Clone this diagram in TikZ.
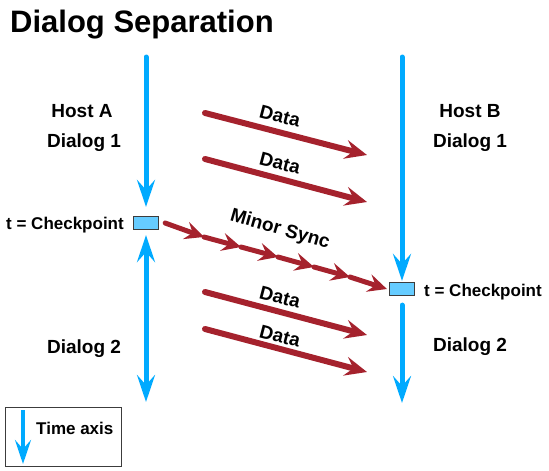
\documentclass[tikz,border=0pt]{standalone}
\usepackage{fontspec}
\setmainfont{Liberation Sans}
\usetikzlibrary{arrows.meta}
\definecolor{axisblue}{RGB}{0,170,255}
\definecolor{datared}{RGB}{165,34,45}
\definecolor{boxfill}{RGB}{102,204,255}
\definecolor{boxedge}{RGB}{60,60,60}
\begin{document}
\begin{tikzpicture}[x=1pt,y=-1pt,
  axisline/.style={draw=axisblue, line width=5pt, line cap=round, -{Stealth[length=27pt,width=18pt,inset=10pt]}},
  axisboth/.style={draw=axisblue, line width=5pt, {Stealth[length=27pt,width=18pt,inset=10pt]}-{Stealth[length=27pt,width=18pt,inset=10pt]}},
  dataline/.style={draw=datared, line width=6pt, line cap=round, -{Stealth[length=22pt,width=19pt,inset=8pt]}},
  syncline/.style={draw=datared, line width=5pt, line cap=round, -{Stealth[length=19pt,width=18pt,inset=7pt]}},
  cpbox/.style={draw=boxedge, line width=1.2pt, fill=boxfill, minimum width=25pt, minimum height=13pt, inner sep=0pt},
  lbl/.style={font=\fontsize{19}{19}\selectfont\bfseries, inner sep=0pt},
  small/.style={font=\fontsize{17}{17}\selectfont\bfseries, inner sep=0pt},
  rlbl/.style={font=\fontsize{19}{19}\selectfont\bfseries, inner sep=0pt, rotate=-14.7}
]
\useasboundingbox (0,0) rectangle (549,471);

% title
\node[anchor=base west, font=\fontsize{31}{31}\selectfont\bfseries, inner sep=0pt] (title) at (10,32) {Dialog Separation};

% checkpoint boxes
\node[cpbox] (cpA) at (146,223) {};
\node[cpbox] (cpB) at (402,289) {};

% axis coordinates
\coordinate (aTop) at (146,57);
\coordinate (aBot) at (146,402);
\coordinate (bTop) at (402,57);
\coordinate (bBot) at (402,403);

% blue time axes
\draw[axisline] (aTop) -- ([yshift=9pt]cpA.north);
\draw[axisboth] ([yshift=-5pt]cpA.south) -- (aBot);
\draw[axisline] (bTop) -- ([yshift=1pt]cpB.north);
\draw[axisline] ([yshift=-9pt]cpB.south) -- (bBot);

% data arrows
\coordinate (d1s) at (205,113); \coordinate (d1e) at (367,155);
\coordinate (d2s) at (205,159); \coordinate (d2e) at (367,202);
\coordinate (d3s) at (205,292); \coordinate (d3e) at (367,335);
\coordinate (d4s) at (205,329); \coordinate (d4e) at (367,372);
\draw[dataline] (d1s) -- (d1e);
\draw[dataline] (d2s) -- (d2e);
\draw[dataline] (d3s) -- (d3e);
\draw[dataline] (d4s) -- (d4e);
\node[rlbl] (dl1) at (280,116) {Data};
\node[rlbl] (dl2) at (280,163) {Data};
\node[rlbl] (dl3) at (280,297) {Data};
\node[rlbl] (dl4) at (280,336) {Data};

% minor sync chain
\coordinate (s0) at ([xshift=6pt]cpA.east);
\coordinate (s1) at (204,237);
\coordinate (s2) at (241,247);
\coordinate (s3) at (278,257);
\coordinate (s4) at (314,267);
\coordinate (s5) at (350,277);
\coordinate (s6) at ([xshift=-2pt]cpB.west);
\draw[syncline] (s0) -- (s1);
\draw[syncline] (s1) -- (s2);
\draw[syncline] (s2) -- (s3);
\draw[syncline] (s3) -- (s4);
\draw[syncline] (s4) -- (s5);
\draw[syncline] (s5) -- (s6);
\node[font=\fontsize{19}{19}\selectfont\bfseries, inner sep=0pt, rotate=-16] (ms) at (280,230) {Minor Sync};

% host labels
\node[lbl, anchor=base] (hostA) at (82,117) {Host A};
\node[lbl, anchor=base] (dA1) at (84,147) {Dialog 1};
\node[small, anchor=base east] (tA) at (124,229) {t = Checkpoint};
\node[lbl, anchor=base] (dA2) at (84,353) {Dialog 2};
\node[lbl, anchor=base] (hostB) at (470,117) {Host B};
\node[lbl, anchor=base] (dB1) at (470,147) {Dialog 1};
\node[small, anchor=base west] (tB) at (424,296) {t = Checkpoint};
\node[lbl, anchor=base] (dB2) at (470,351) {Dialog 2};

% legend
\node[draw=boxedge, line width=1pt, minimum width=116pt, minimum height=59pt, inner sep=0pt] (legend) at (63,436.5) {};
\coordinate (lt) at (23,410);
\coordinate (lb) at (23,464);
\draw[draw=axisblue, line width=4pt, -{Stealth[length=24pt,width=16pt,inset=9pt]}] (lt) -- (lb);
\node[small, anchor=base west] (ltext) at (36,434) {Time axis};
\end{tikzpicture}
\end{document}
